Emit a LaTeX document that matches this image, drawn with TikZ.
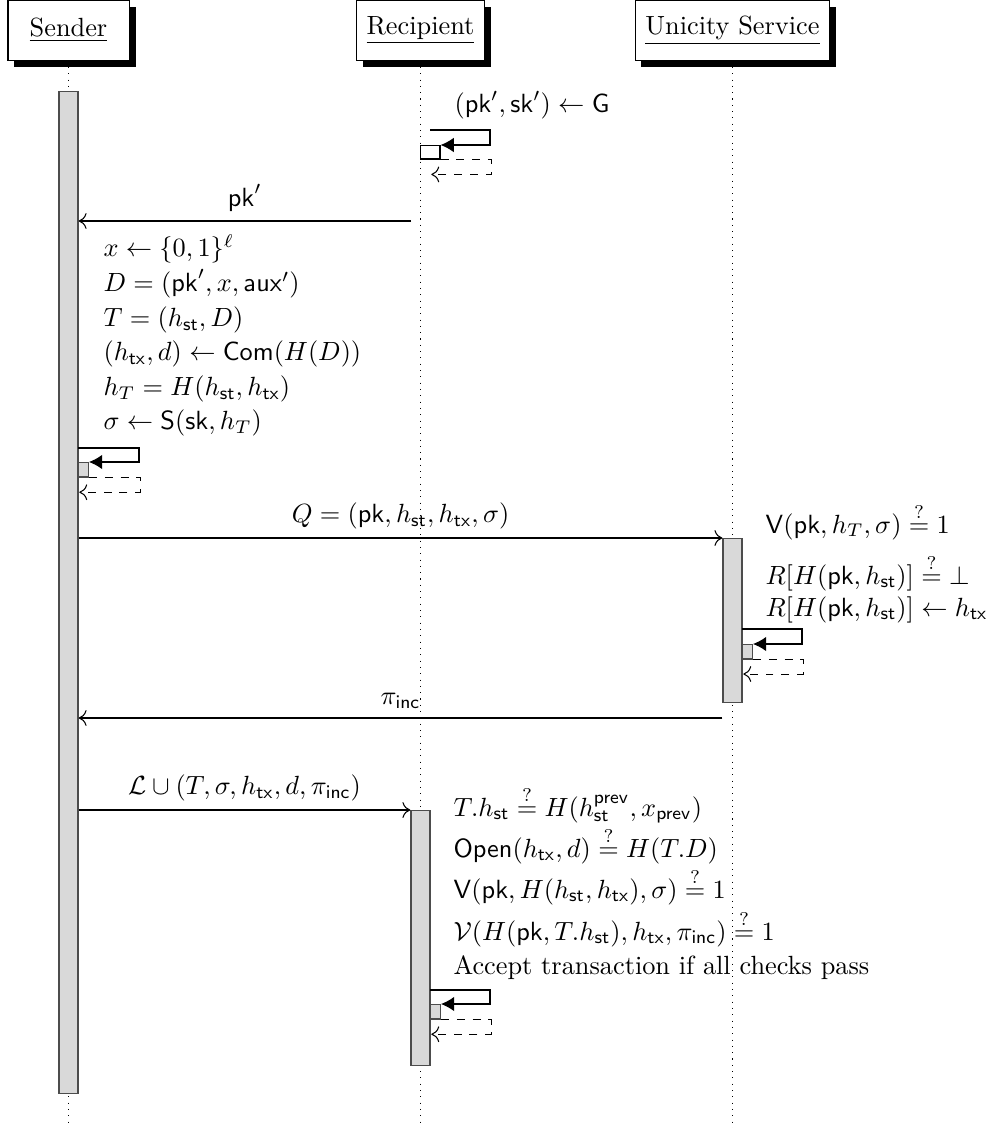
\documentclass[tikz,border=0pt]{standalone}
\usetikzlibrary{arrows.meta,backgrounds}
\begin{document}
\begin{tikzpicture}[x=0.38pt,y=-0.38pt,
  hdr/.style={draw, fill=white, inner sep=0pt, minimum height=22.6pt},
  act/.style={draw=black!70, fill=black!15, line width=0.5pt, inner sep=0pt},
  wbox/.style={draw=black, fill=white, line width=0.5pt, inner sep=0pt},
  msg/.style={-{To[length=3pt,width=6pt]}},
  lbl/.style={anchor=base west, inner sep=0pt},
  life/.style={dotted},
  callln/.style={-{Latex[length=5pt,width=5.5pt]}},
  retln/.style={dashed, -{To[length=3pt,width=6pt]}}]
\useasboundingbox (0,0) rectangle (997,1128);
\coordinate (bot) at (0,1128);

% headers
\node[hdr, minimum width=46pt] (sender) at (68.5,30.3) {\underline{Sender}};
\node[hdr, minimum width=48.3pt] (recip) at (420.5,30.3) {\underline{Recipient}};
\node[hdr, minimum width=73.7pt] (unic) at (732.5,30.3) {\underline{Unicity Service}};
\begin{scope}[on background layer]
  \foreach \n in {sender,recip,unic}
    \fill[black] ([xshift=2.4pt,yshift=-2.5pt]\n.south west) rectangle ([xshift=2.4pt,yshift=-2.5pt]\n.north east);
\end{scope}

% lifelines
\draw[life] (sender.south) -- (sender.south |- bot);
\draw[life] (recip.south) -- (recip.south |- bot);
\draw[life] (unic.south) -- (unic.south |- bot);

% activations
\node[act, minimum width=7.22pt, minimum height=380.8pt, anchor=north] (sact) at (68.5,91) {};
\node[act, minimum width=7.22pt, minimum height=96.9pt, anchor=north] (ract) at (420.5,810) {};
\node[act, minimum width=7.22pt, minimum height=62.3pt, anchor=north] (uact) at (732.5,538) {};

% recipient key generation (self call, no activation)
\node[wbox, minimum width=7.33pt, minimum height=5.1pt, anchor=north west] (rbox0) at (420,145) {};
\coordinate (rc0) at (430,130);
\draw[callln] (rc0) -- ++(60,0) -- ++(0,15) -- (rbox0.north east);
\draw[retln] (rbox0.south east) -- ++(50.7,0) -- ++(0,14.7) -- ++(-60,0);
\node[lbl] (gen) at (454,113) {$(\mathsf{pk}', \mathsf{sk}') \leftarrow \mathsf{G}$};

% pk' message
\coordinate (pkS) at (411,221);
\draw[msg] (pkS) -- node[above] (lpk) {$\mathsf{pk}'$} (sact.east |- pkS);

% sender computations
\node[lbl] (s1) at (103,257) {$x \leftarrow \{0,1\}^\ell$};
\node[lbl] (s2) at (103,291.6) {$D = (\mathsf{pk}', x, \mathsf{aux}')$};
\node[lbl] (s3) at (103,326.2) {$T = (h_\mathsf{st}, D)$};
\node[lbl] (s4) at (103,360.8) {$(h_\mathsf{tx}, d) \leftarrow \mathsf{Com}(H(D))$};
\node[lbl] (s5) at (103,395.4) {$h_T = H(h_\mathsf{st}, h_\mathsf{tx})$};
\node[lbl] (s6) at (103,430) {$\sigma \leftarrow \mathsf{S}(\mathsf{sk}, h_T)$};

% sender self call
\node[act, minimum width=3.69pt, minimum height=5.4pt, anchor=north west] (sbox) at (78,462) {};
\coordinate (sc) at (78,448);
\draw[callln] (sc) -- ++(61,0) -- ++(0,14) -- (sbox.north east);
\draw[retln] (sbox.south east) -- ++(51.3,0) -- ++(0,14.7) -- ++(-61,0);

% Q message
\draw[msg] (sact.east |- uact.north) -- node[above] (lq) {$Q = (\mathsf{pk}, h_\mathsf{st}, h_\mathsf{tx}, \sigma)$} (uact.north west);

% unicity checks
\node[lbl] (u1) at (765,533) {$\mathsf{V}(\mathsf{pk}, h_T, \sigma) \stackrel{?}{=} 1$};
\node[lbl] (u2) at (765,584) {$R[H(\mathsf{pk}, h_\mathsf{st})] \stackrel{?}{=} \bot$};
\node[lbl] (u3) at (765,616) {$R[H(\mathsf{pk}, h_\mathsf{st})] \leftarrow h_\mathsf{tx}$};

% unicity self call
\node[act, minimum width=3.69pt, minimum height=5.4pt, anchor=north west] (ubox) at (742,644) {};
\coordinate (uc) at (742,629);
\draw[callln] (uc) -- ++(60,0) -- ++(0,15) -- (ubox.north east);
\draw[retln] (ubox.south east) -- ++(50.3,0) -- ++(0,14.5) -- ++(-60,0);

% pi message
\coordinate (piy) at (0,718);
\draw[msg] (uact.west |- piy) -- node[above] (lpi) {$\pi_\mathsf{inc}$} (sact.east |- piy);

% L message
\draw[msg] (sact.east |- ract.north) -- node[above] (ll) {$\mathcal{L} \cup (T, \sigma, h_\mathsf{tx}, d, \pi_\mathsf{inc})$} (ract.north west);

% recipient checks
\node[lbl] (r1) at (453,816) {$T.h_\mathsf{st} \stackrel{?}{=} H(h_\mathsf{st}^\mathsf{prev}, x_\mathsf{prev})$};
\node[lbl] (r2) at (453,857) {$\mathsf{Open}(h_\mathsf{tx}, d) \stackrel{?}{=} H(T.D)$};
\node[lbl] (r3) at (453,898) {$\mathsf{V}(\mathsf{pk}, H(h_\mathsf{st}, h_\mathsf{tx}), \sigma) \stackrel{?}{=} 1$};
\node[lbl] (r4) at (453,940) {$\mathcal{V}(H(\mathsf{pk}, T.h_\mathsf{st}), h_\mathsf{tx}, \pi_\mathsf{inc}) \stackrel{?}{=} 1$};
\node[lbl] (r5) at (453,974) {Accept transaction if all checks pass};

% recipient self call
\node[act, minimum width=3.69pt, minimum height=5.4pt, anchor=north west] (rbox) at (430,1004) {};
\coordinate (rc) at (430,990);
\draw[callln] (rc) -- ++(60,0) -- ++(0,14) -- (rbox.north east);
\draw[retln] (rbox.south east) -- ++(50.3,0) -- ++(0,14.7) -- ++(-60,0);
\end{tikzpicture}
\end{document}
